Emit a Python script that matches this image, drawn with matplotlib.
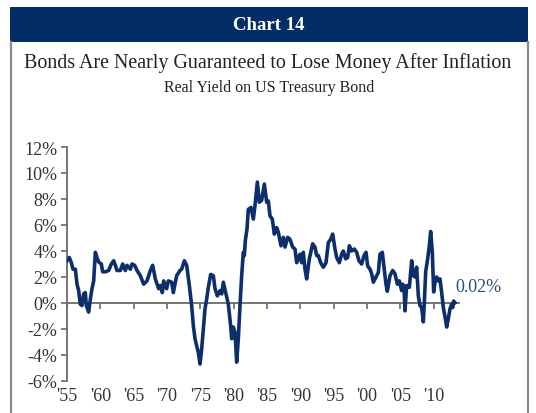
import matplotlib
matplotlib.use("Agg")
import matplotlib.pyplot as plt
from matplotlib.patches import Rectangle
from matplotlib.lines import Line2D

plt.rcParams['font.family'] = ['Liberation Serif', 'DejaVu Serif']

years = [1955.0, 1955.35, 1955.65, 1955.9, 1956.25, 1956.5, 1956.75, 1957.0, 1957.25, 1957.5,
         1957.75, 1957.9, 1958.25, 1958.5, 1958.75, 1959.0, 1959.25, 1959.5, 1959.75, 1960.15,
         1960.35, 1960.75, 1961.25, 1961.65, 1962.0, 1962.25, 1962.5, 1963.0, 1963.35, 1963.75,
         1964.0, 1964.5, 1964.75, 1965.15, 1965.5, 1966.0, 1966.5, 1967.0, 1967.5, 1967.85,
         1968.25, 1968.75, 1969.0, 1969.3, 1969.5, 1969.95, 1970.2, 1970.7, 1970.95, 1971.45,
         1971.95, 1972.2, 1972.6, 1972.95, 1973.35, 1973.7, 1973.95, 1974.2, 1974.45, 1974.7,
         1974.95, 1975.2, 1975.45, 1975.7, 1975.95, 1976.2, 1976.55, 1976.95, 1977.2, 1977.55,
         1977.95, 1978.2, 1978.45, 1978.8, 1979.2, 1979.55, 1979.7, 1979.95, 1980.2, 1980.45,
         1980.7, 1980.95, 1981.2, 1981.45, 1981.6, 1981.75, 1982.0, 1982.2, 1982.6, 1982.95,
         1983.2, 1983.55, 1983.85, 1984.2, 1984.6, 1984.95, 1985.2, 1985.45, 1985.8, 1986.1,
         1986.45, 1986.7, 1987.1, 1987.45, 1987.7, 1988.1, 1988.45, 1988.85, 1989.2, 1989.45,
         1989.95, 1990.2, 1990.45, 1990.7, 1990.95, 1991.35, 1991.85, 1992.2, 1992.45, 1992.7,
         1993.05, 1993.45, 1993.85, 1994.2, 1994.55, 1994.85, 1995.2, 1995.45, 1995.85, 1996.2,
         1996.45, 1996.8, 1997.1, 1997.35, 1997.7, 1998.1, 1998.45, 1998.8, 1999.2, 1999.55,
         1999.85, 2000.1, 2000.45, 2000.7, 2000.95, 2001.35, 2001.7, 2001.95, 2002.3, 2002.55,
         2002.85, 2003.05, 2003.45, 2003.85, 2004.2, 2004.55, 2004.85, 2005.2, 2005.35, 2005.55,
         2005.7, 2005.95, 2006.35, 2006.7, 2006.95, 2007.2, 2007.45, 2007.7, 2007.95, 2008.2,
         2008.45, 2008.6, 2008.8, 2009.1, 2009.35, 2009.55, 2009.8, 2010.0, 2010.2, 2010.45,
         2010.7, 2010.95, 2011.2, 2011.45, 2011.75, 2011.95, 2012.2, 2012.45, 2012.7, 2012.85,
         2013.0, 2013.2]
real_yield = [3.25, 3.5, 3.1, 2.6, 2.6, 1.45, 0.95, -0.1, -0.2, 0.7,
              0.8, -0.2, -0.7, 0.3, 1.1, 1.7, 3.9, 3.5, 3.15, 3.0,
              2.4, 2.4, 2.5, 3.0, 3.25, 2.9, 2.5, 2.5, 3.0, 2.5,
              2.9, 2.6, 3.0, 2.9, 2.5, 2.1, 1.45, 1.7, 2.5, 2.9,
              1.85, 1.1, 1.35, 0.8, 1.7, 1.1, 1.7, 1.6, 0.8, 2.1,
              2.5, 2.6, 3.25, 2.9, 1.35, -0.2, -1.75, -2.75, -3.3, -3.8,
              -4.7, -3.55, -2.0, -0.45, 0.3, 1.2, 2.2, 2.1, 1.1, 0.55,
              0.95, 0.7, 1.6, 0.8, -0.1, -1.75, -2.75, -1.85, -2.25, -4.55,
              -2.75, -0.2, 2.1, 3.9, 3.65, 4.8, 5.7, 7.2, 7.35, 6.45,
              7.5, 9.3, 7.75, 7.9, 9.15, 7.75, 7.85, 6.7, 6.45, 5.3,
              5.8, 5.45, 4.4, 5.05, 4.3, 5.05, 4.9, 4.3, 4.15, 3.1,
              3.75, 3.1, 3.9, 2.6, 1.85, 3.4, 4.55, 4.3, 3.65, 3.65,
              3.1, 2.75, 3.1, 4.65, 4.9, 5.3, 4.15, 3.5, 3.1, 3.75,
              4.0, 3.4, 3.5, 4.4, 4.0, 4.15, 3.9, 3.25, 3.0, 3.65,
              3.9, 2.85, 2.6, 2.25, 1.6, 2.0, 2.35, 3.75, 3.9, 2.75,
              1.45, 0.9, 2.1, 2.5, 2.25, 1.45, 1.7, 0.95, 1.45, 1.2,
              -0.6, 1.35, 1.2, 3.25, 2.1, 2.0, 2.75, 0.55, -0.2, -0.35,
              -1.45, 0.05, 2.4, 3.4, 4.4, 5.5, 3.9, 0.85, 1.6, 2.0,
              1.7, 1.85, 0.8, -0.35, -1.2, -1.85, -1.2, -0.45, -0.1, -0.35,
              0.15, 0.02]

x_ticks = [1955, 1960, 1965, 1970, 1975, 1980, 1985, 1990, 1995, 2000, 2005, 2010]
x_tick_labels = ["'55", "'60", "'65", "'70", "'75", "'80", "'85", "'90", "'95", "'00", "'05", "'10"]
y_ticks = [-6, -4, -2, 0, 2, 4, 6, 8, 10, 12]
y_tick_labels = [f"{v}%" for v in y_ticks]

title = "Bonds Are Nearly Guaranteed to Lose Money After Inflation"
subtitle = "Real Yield on US Treasury Bond"
banner = "Chart 14"

W, H = 536, 414
NAVY = "#032d66"
LINE = "#0c2f6b"
GRAY = "#6b6b6b"
TXT = "#333333"

fig = plt.figure(figsize=(W / 100, H / 100), dpi=100)
fig.patch.set_facecolor("white")

# banner
fig.patches.append(Rectangle((10 / W, 1 - 43 / H), 518 / W, 35 / H,
                             transform=fig.transFigure, facecolor=NAVY,
                             edgecolor="none", zorder=0))
fig.text(269 / W, 1 - 25.5 / H, banner, color="white", fontsize=13.5,
         fontweight="bold", ha="center", va="center")
# side borders
for xb in (10.5, 527.5):
    fig.lines.append(Line2D([xb / W, xb / W], [0, 1 - 43 / H],
                            transform=fig.transFigure, color="#8a8a8a", lw=1.6))

fig.text(268 / W, 1 - 63 / H, title, color="#222222", fontsize=14.4,
         ha="center", va="center")
fig.text(269 / W, 1 - 88 / H, subtitle, color="#222222", fontsize=11.5,
         ha="center", va="center")

ax = fig.add_axes([67 / W, 1 - 382 / H, (459 - 67) / W, (382 - 148) / H])
ax.plot(years, real_yield, color=LINE, lw=2.6, solid_joinstyle="round", zorder=3)
ax.set_xlim(1955, 2013.8)
ax.set_ylim(-6, 12)

ax.set_yticks(y_ticks)
ax.set_yticklabels(y_tick_labels)
ax.tick_params(axis="y", direction="out", length=4, width=1.2, color=GRAY,
               labelsize=13, labelcolor=TXT, pad=3)

for s in ("top", "right"):
    ax.spines[s].set_visible(False)
ax.spines["left"].set_color(GRAY)
ax.spines["left"].set_linewidth(1.3)
ax.spines["bottom"].set_position(("data", 0))
ax.spines["bottom"].set_color(GRAY)
ax.spines["bottom"].set_linewidth(1.3)
ax.set_xticks(x_ticks)
ax.tick_params(axis="x", direction="out", length=4, width=1.2, color=GRAY,
               labelbottom=False)

sec = ax.secondary_xaxis(0.0)
sec.set_xticks(x_ticks)
sec.set_xticklabels(x_tick_labels)
sec.spines["bottom"].set_visible(False)
sec.tick_params(axis="x", length=0, labelsize=13, labelcolor=TXT, pad=4)

ax.annotate(f"{real_yield[-1]:.2f}%", xy=(years[-1], real_yield[-1]),
            xytext=(0, 12), textcoords="offset points", ha="left", va="center",
            color="#2a4a80", fontsize=13, annotation_clip=False)

fig.savefig("out.png", dpi=100, facecolor="white")
